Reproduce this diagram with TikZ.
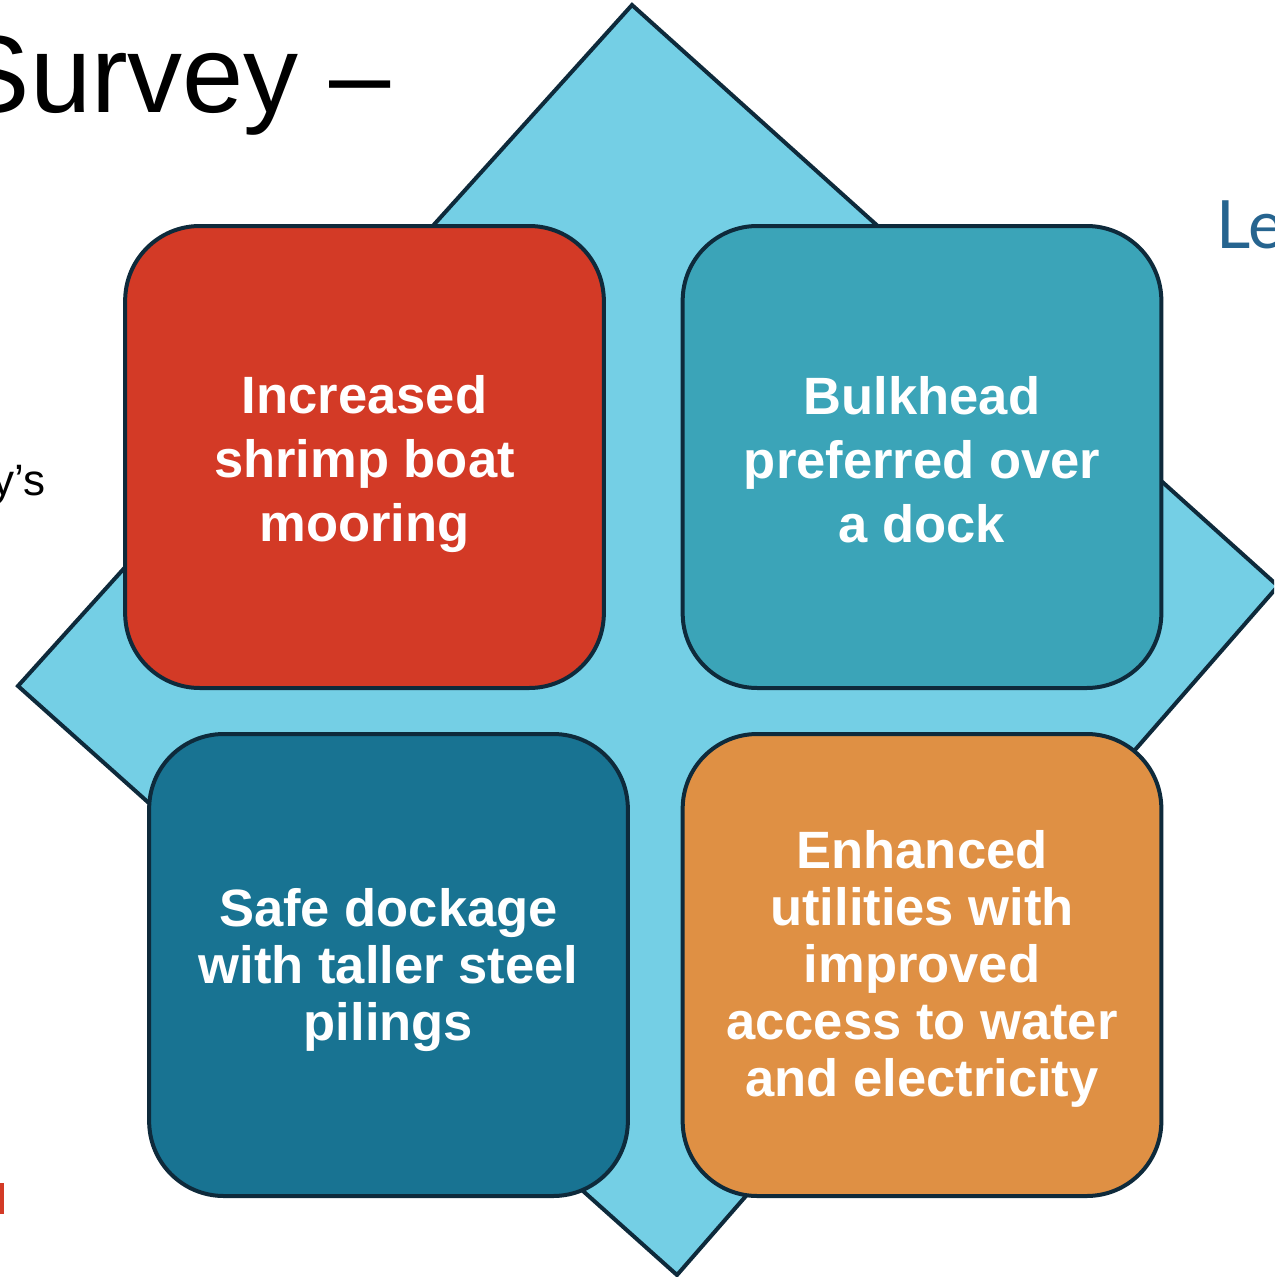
\documentclass[tikz,border=0pt]{standalone}
\usepackage{fontspec}
\setmainfont{Liberation Sans}
\newfontfamily\lefont{Lato}
\definecolor{edgecol}{HTML}{0E2A3B}
\definecolor{diacol}{HTML}{74CFE5}
\definecolor{redcol}{HTML}{D33A26}
\definecolor{tealcol}{HTML}{3BA4B8}
\definecolor{bluecol}{HTML}{187392}
\definecolor{orangecol}{HTML}{DF9044}
\definecolor{lecol}{HTML}{26648F}
\tikzset{
  tile/.style={draw=edgecol, line width=3pt, rounded corners=56pt,
    minimum width=359pt, minimum height=346.5pt, inner sep=0pt},
  tiletext/.style={text=white, align=center, inner sep=0pt},
  bigtxt/.style={font=\bfseries\fontsize{39.4}{48}\selectfont},
  smalltxt/.style={font=\bfseries\fontsize{39.4}{42.75}\selectfont},
}
\begin{document}
\begin{tikzpicture}[x=0.75pt,y=-0.75pt]
\useasboundingbox (0,0) rectangle (1274,1277);
\clip (0,0) rectangle (1274,1277);
\fill[white] (0,0) rectangle (1274,1277);
% diamond
\coordinate (dt) at (632,5);
\coordinate (dr) at (1278,586);
\coordinate (db) at (677,1275);
\coordinate (dl) at (18,686);
\draw[draw=edgecol, fill=diacol, line width=3pt, line join=miter] (dt) -- (dr) -- (db) -- (dl) -- cycle;
% tiles
\node[tile, fill=redcol] (red) at (364.5,457) {};
\node[tile, fill=tealcol] (teal) at (922,457) {};
\node[tile, fill=bluecol] (blue) at (388.5,965) {};
\node[tile, fill=orangecol] (orange) at (922,965) {};
% tile texts
\node[tiletext, bigtxt] (redtxt) at ([yshift=-5.25pt]red.center) {Increased\\shrimp boat\\mooring};
\node[tiletext, bigtxt] (tealtxt) at ([yshift=-2.25pt]teal.center) {Bulkhead\\preferred over\\a dock};
\node[tiletext, smalltxt] (bluetxt) at ([yshift=-3.4pt]blue.center) {Safe dockage\\with taller steel\\pilings};
\node[tiletext, smalltxt] (orangetxt) at ([yshift=-2.8pt]orange.center) {Enhanced\\utilities with\\improved\\access to water\\and electricity};
% background texts
\node[anchor=base east, inner sep=0pt, font=\fontsize{82.5}{90}\selectfont] (title) at (391,113) {Survey –};
\node[anchor=base west, inner sep=0pt, text=lecol, font=\lefont\fontsize{50}{60}\selectfont] (le) at (1216,248) {Le};
\node[anchor=base east, inner sep=0pt, font=\fontsize{33}{40}\selectfont] (ys) at (46,495) {y’s};
\fill[redcol] (0,1183) rectangle (3.5,1214);
\end{tikzpicture}
\end{document}
